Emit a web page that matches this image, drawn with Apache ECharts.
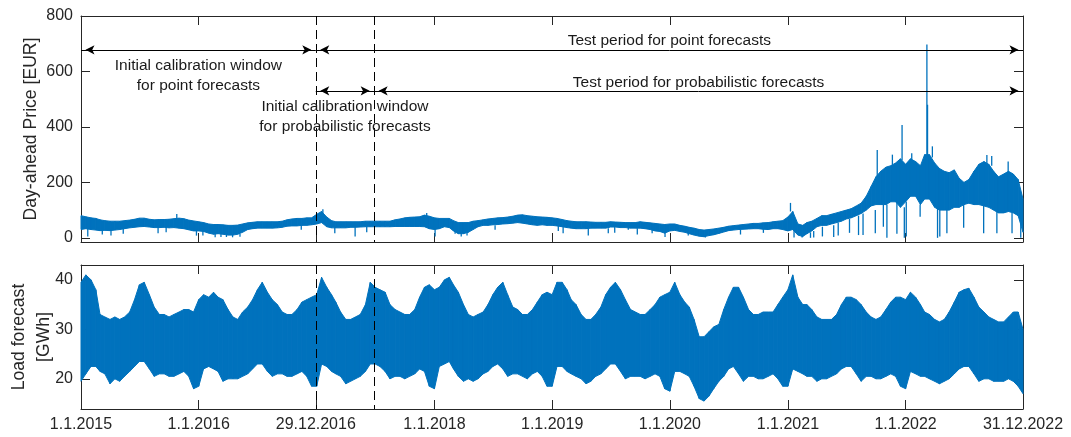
<!DOCTYPE html>
<html>
<head>
<meta charset="utf-8">
<script src="https://cdn.jsdelivr.net/npm/echarts@6/dist/echarts.min.js"></script>
<style>
html,body{margin:0;padding:0;background:#fff;}
#chart{width:1071px;height:437px;}
</style>
</head>
<body>
<div id="chart"></div>
<script>
// ---------- DATA ----------
// semi-monthly sampling grid (1st and 16th of each month) + last day
const sampleDates = [];
for (let y = 2015; y <= 2022; y++) {
  for (let m = 1; m <= 12; m++) {
    for (const d of [1, 16]) sampleDates.push(y + '-' + String(m).padStart(2, '0') + '-' + String(d).padStart(2, '0'));
  }
}
sampleDates.push('2022-12-31');

// Day-ahead price: upper / lower edge of the main trace body [EUR]
const priceHigh = [
  80, 76, 72, 70, 65, 62, 60, 60, 60, 62, 64, 67, 71, 71, 67, 65, 66, 66, 67, 69, 71, 69, 64, 61,
  58, 55, 50, 48, 48, 47, 45, 45, 46, 50, 54, 56, 58, 58, 58, 58, 58, 60, 65, 68, 70, 70, 72, 72,
  85, 95, 75, 62, 58, 58, 58, 58, 58, 58, 60, 60, 60, 60, 60, 60, 65, 68, 72, 74, 75, 76, 82, 78,
  72, 70, 70, 70, 62, 55, 55, 55, 60, 62, 65, 68, 70, 72, 73, 75, 78, 82, 83, 80, 78, 76, 75, 74,
  72, 70, 66, 62, 60, 58, 58, 58, 57, 56, 56, 56, 58, 57, 56, 55, 55, 55, 58, 56, 54, 52, 50, 48,
  50, 50, 45, 42, 38, 35, 30, 28, 30, 32, 35, 38, 42, 44, 46, 48, 50, 52, 52, 54, 55, 58, 60, 62,
  75, 95, 50, 45, 55, 60, 70, 80, 80, 85, 90, 95, 100, 105, 115, 125, 150, 185, 220, 240, 255, 260, 270, 285,
  265, 285, 275, 260, 300, 300, 270, 250, 240, 235, 245, 215, 200, 210, 240, 265, 275, 265, 240, 220, 230, 240, 230, 210, 140
];
const priceLow = [
  30, 33, 30, 28, 26, 27, 26, 28, 30, 33, 36, 38, 40, 41, 39, 37, 37, 38, 36, 37, 35, 33, 29, 25,
  25, 23, 17, 13, 15, 13, 10, 10, 13, 20, 30, 33, 35, 35, 35, 35, 36, 38, 42, 43, 43, 45, 45, 47,
  50, 55, 40, 36, 36, 36, 36, 38, 38, 39, 40, 40, 40, 40, 40, 40, 41, 41, 41, 41, 41, 41, 40, 33,
  30, 33, 40, 37, 25, 15, 15, 20, 30, 40, 45, 45, 47, 48, 50, 51, 53, 55, 53, 50, 47, 45, 47, 45,
  45, 43, 40, 37, 35, 33, 33, 33, 35, 35, 35, 35, 39, 39, 37, 37, 35, 35, 35, 33, 30, 25, 23, 17,
  25, 27, 23, 20, 15, 10, 6, 4, 8, 11, 16, 21, 26, 28, 30, 31, 32, 33, 33, 31, 30, 33, 33, 30,
  25, 30, 10, 5, 15, 25, 40, 45, 45, 50, 55, 60, 68, 72, 80, 88, 100, 115, 120, 120, 120, 130, 130, 110,
  130, 150, 150, 120, 140, 140, 110, 100, 100, 100, 110, 110, 120, 125, 120, 120, 115, 110, 100, 90, 90, 95, 90, 80, 20
];
// individual price spikes: [date, from, to] [EUR]
const priceSpikes = [
  ['2015-01-22', 35, 5], ['2015-03-08', 30, 12], ['2015-04-04', 30, 8], ['2015-05-12', 35, 15],
  ['2015-08-28', 40, 17], ['2015-09-22', 40, 20], ['2015-10-25', 68, 86], ['2015-12-25', 30, 8],
  ['2016-01-14', 28, 8], ['2016-02-21', 20, 2], ['2016-03-10', 15, 3], ['2016-03-27', 15, 3],
  ['2016-04-15', 12, 2], ['2016-05-08', 15, 4], ['2016-11-14', 45, 29],
  ['2017-01-20', 90, 103], ['2017-02-26', 40, 17], ['2017-04-30', 38, 5], ['2017-06-05', 42, 20],
  ['2017-12-08', 80, 90], ['2018-01-03', 35, 5], ['2018-03-06', 28, 15], ['2018-03-25', 18, 5],
  ['2018-04-12', 20, 8], ['2018-07-08', 45, 29],
  ['2019-01-20', 45, 25], ['2019-02-04', 42, 17], ['2019-04-23', 33, 8], ['2019-06-24', 35, 17],
  ['2019-07-14', 40, 18], ['2019-08-25', 37, 29], ['2019-09-22', 35, 12], ['2019-11-07', 32, 17],
  ['2019-12-17', 22, 3],
  ['2020-02-27', 22, 8], ['2020-04-20', 6, 1], ['2020-08-07', 30, 12], ['2020-10-17', 31, 18],
  ['2021-01-09', 95, 126], ['2021-01-20', 30, 1], ['2021-02-14', 8, 1], ['2021-03-12', 20, 0],
  ['2021-03-22', 25, 1], ['2021-04-18', 40, 5], ['2021-05-23', 45, 3], ['2021-06-06', 55, 8],
  ['2021-07-11', 68, 18], ['2021-08-08', 80, 10], ['2021-08-22', 88, 10], ['2021-09-29', 100, 17],
  ['2021-10-05', 220, 317], ['2021-10-24', 120, 40], ['2021-11-04', 120, 0], ['2021-11-21', 255, 300],
  ['2021-12-05', 130, 15], ['2021-12-21', 280, 407], ['2021-12-28', 110, 0], ['2022-01-03', 130, 5],
  ['2022-01-20', 280, 305], ['2022-02-15', 120, 76], ['2022-03-08', 300, 697], ['2022-03-10', 290, 480],
  ['2022-03-25', 290, 330], ['2022-04-10', 110, 0], ['2022-04-17', 100, 5], ['2022-05-09', 100, 17],
  ['2022-06-30', 120, 36], ['2022-08-31', 120, 17], ['2022-09-10', 270, 299], ['2022-09-25', 260, 295],
  ['2022-10-11', 100, 17], ['2022-11-15', 230, 275], ['2022-11-27', 90, 17], ['2022-12-24', 80, 0]
];

// Load forecast: upper / lower envelope [GWh]
const loadHigh = [
  39.5, 41, 40, 38, 33, 32.5, 32, 32.5, 32, 32.5, 33.5, 36, 39, 39.5, 37, 34.5, 33, 33, 32.5, 33, 33.5, 34, 34, 33.5,
  36, 37, 36.5, 37.5, 36.5, 36, 34, 32.5, 32, 33.5, 34.5, 36, 38, 39.5, 37.5, 36, 35, 33.5, 33, 33, 34, 35.5, 36, 36.5,
  37, 40.5, 38.5, 37, 35.5, 33.5, 32, 32, 32.5, 33, 35, 39.5, 38.5, 38, 37.5, 35, 34, 33.5, 33, 33, 34, 36.5, 38.5, 39,
  38, 38.5, 40, 40.5, 39, 37.5, 35, 33, 32.5, 33, 33.5, 35, 37, 38.5, 39.5, 37, 34.5, 34, 33, 33, 34, 35.5, 37, 37.5,
  37, 39.5, 39.5, 38, 36, 35, 33, 32, 32, 33, 34.5, 37, 38.5, 39.5, 38, 36, 34, 33.5, 33, 33, 34, 35, 36.5, 37,
  37.5, 39.5, 37, 35.5, 34.5, 32, 28.5, 28.5, 29.5, 30.5, 31, 34, 36.5, 38.5, 38.5, 36.5, 34, 33, 33, 33.5, 33.5, 33.5, 35, 36.5,
  38, 41, 36.5, 35, 35, 34, 32.5, 32, 32, 32, 33, 35, 36.5, 36.5, 36, 35, 33.5, 32.5, 32, 32.5, 34, 35.5, 36.5, 36.5,
  36, 37.5, 36.5, 35, 33.5, 33, 32, 31.5, 32, 33.5, 35.5, 37.5, 38, 38.3, 36.5, 34.5, 33.5, 32.5, 32, 31.5, 31.5, 32.5, 33.5, 33.5, 30
];
const loadLow = [
  19.5, 21, 22.5, 22.5, 21.5, 21, 19, 20, 19.5, 20.5, 21.5, 22.5, 23.5, 23.5, 22, 20.5, 21, 21, 20.5, 20.5, 21, 21.5, 20.5, 18,
  18.5, 22, 22.5, 22, 21.5, 19.5, 20, 20, 20, 20.5, 21, 22, 23, 23, 21.5, 20.5, 21, 21, 20.5, 20.5, 21, 21.5, 20.5, 18.5,
  18.5, 23, 22.5, 21.5, 21, 20.5, 19, 19.5, 20, 20.5, 21.5, 23, 23, 22.5, 21.5, 20, 20.5, 20.5, 20, 20.5, 21, 22, 21.5, 18.5,
  18, 22.5, 23, 23.5, 22, 20.5, 19.5, 20, 19.5, 20, 21, 21.5, 22.5, 23, 22, 20.5, 21, 21, 20.5, 20, 21, 21.5, 20.5, 18.5,
  18.5, 22.5, 22.5, 21.5, 21, 20.5, 20, 19, 19.5, 20.5, 21, 22, 23, 23, 21.5, 20, 20.5, 20.5, 20.5, 20, 20.5, 21, 20.5, 18,
  17.5, 21.5, 21.5, 21, 20.5, 18.5, 16, 15.5, 16.5, 18, 19.5, 20.5, 22, 22.5, 21, 19.5, 20.5, 20.5, 20, 20, 20.5, 21, 20, 18.5,
  18.5, 22, 21.5, 21, 20.5, 20.5, 19.5, 20, 20, 20.5, 21, 22, 22.5, 22.5, 21, 19.5, 20.5, 20.5, 20, 20, 20.5, 21, 20.5, 18.5,
  18, 21.5, 21, 20.5, 20.5, 20, 19.5, 19, 19.5, 20, 21, 22, 22.5, 22.5, 21, 19.5, 20, 20, 19.5, 19.5, 19.5, 20, 19.5, 18.5, 17
];

// x tick dates and labels
const xTickDates = ['2015-01-01', '2016-01-01', '2016-12-29', '2018-01-01', '2019-01-01', '2020-01-01', '2021-01-01', '2022-01-01', '2022-12-31'];
const xTickLabels = ['1.1.2015', '1.1.2016', '29.12.2016', '1.1.2018', '1.1.2019', '1.1.2020', '1.1.2021', '1.1.2022', '31.12.2022'];
const priceTicks = [0, 200, 400, 600, 800];
const loadTicks = [20, 30, 40];

// periods
const startDate = '2015-01-01';
const endDate = '2022-12-31';
const pointTestStart = '2016-12-29';
const probTestStart = '2017-06-28';
const pointArrowLevel = 678;
const probArrowLevel = 530;

// axis ranges
const priceRange = [-15, 800];
const loadRange = [13.9, 43];

// ---------- CHART ----------
// x is expressed in days since 1.1.2015
const BASE = Date.parse(startDate + 'T00:00:00Z');
const dayOf = s => Math.round((Date.parse(s + 'T00:00:00Z') - BASE) / 86400000);
const xTicks = xTickDates.map(dayOf);
const xMin = dayOf(startDate), xMax = dayOf(endDate);
const labelByDay = {};
xTicks.forEach((d, i) => { labelByDay[d] = xTickLabels[i]; });

const FONT = '"Liberation Sans", Arial, Helvetica, sans-serif';
const AX = '#262626';
const BLUE = '#0072BD';

// band rows: [day, low, high]
const priceBand = sampleDates.map((d, i) => [dayOf(d), priceLow[i], priceHigh[i]]);
const loadBand = sampleDates.map((d, i) => [dayOf(d), loadLow[i], loadHigh[i]]);
const spikeData = priceSpikes.map(s => [dayOf(s[0]), s[1], s[2]]);

function bandRenderer(rows) {
  return function (params, api) {
    const i = params.dataIndex;
    if (i >= rows.length - 1) return null;
    const a = rows[i], b = rows[i + 1];
    const pts = [
      api.coord([a[0], a[2]]), api.coord([b[0], b[2]]),
      api.coord([b[0], b[1]]), api.coord([a[0], a[1]])
    ];
    return { type: 'polygon', shape: { points: pts }, style: { fill: BLUE, stroke: BLUE, lineWidth: 1 } };
  };
}
function bandSeries(rows, xi, yi) {
  return {
    type: 'custom', xAxisIndex: xi, yAxisIndex: yi, data: rows, silent: true, z: 2,
    encode: { x: 0, y: [1, 2] }, renderItem: bandRenderer(rows)
  };
}

// vertical dashed period boundaries, drawn through the axes as individual dashes
const DASH = 9, GAP = 5;
function dashSeries(xi, yi, range) {
  const rows = [pointTestStart, probTestStart].map(d => [dayOf(d), range[0], range[1]]);
  return {
    type: 'custom', xAxisIndex: xi, yAxisIndex: yi, data: rows, silent: true, z: 10,
    encode: { x: 0, y: [1, 2] },
    renderItem: function (params, api) {
      const t = api.value(0);
      const p1 = api.coord([t, api.value(1)]);
      const p2 = api.coord([t, api.value(2)]);
      const x = Math.round(p1[0]) + 0.5;
      const top = Math.min(p1[1], p2[1]), bottom = Math.max(p1[1], p2[1]);
      const children = [];
      for (let y = top; y < bottom; y += DASH + GAP) {
        children.push({ type: 'line', shape: { x1: x, y1: y, x2: x, y2: Math.min(y + DASH, bottom) },
          style: { stroke: '#000', lineWidth: 1 } });
      }
      return { type: 'group', children };
    }
  };
}

function xAxisDef(gridIndex, position, showLabels) {
  return {
    type: 'value', gridIndex, position, min: xMin, max: xMax,
    axisLine: { show: true, onZero: false, lineStyle: { color: AX, width: 1 } },
    axisTick: { show: true, inside: true, length: 9, customValues: xTicks, lineStyle: { color: AX } },
    axisLabel: { show: showLabels, customValues: xTicks, formatter: v => labelByDay[Math.round(v)] || '', color: AX, fontSize: 16, fontFamily: FONT, margin: 8, hideOverlap: false, showMinLabel: true, showMaxLabel: true },
    splitLine: { show: false }, minorTick: { show: false }
  };
}
function yAxisDef(gridIndex, position, range, ticks, showLabels, name, nameGap) {
  return {
    type: 'value', gridIndex, position, min: range[0], max: range[1],
    name: name || '', nameLocation: 'middle', nameGap: nameGap || 0, nameMoveOverlap: false,
    nameTextStyle: { color: AX, fontSize: 17.6, fontFamily: FONT, lineHeight: 25 },
    axisLine: { show: true, onZero: false, lineStyle: { color: AX, width: 1 } },
    axisTick: { show: true, inside: true, length: 9, customValues: ticks, lineStyle: { color: AX } },
    axisLabel: { show: showLabels, customValues: ticks, color: AX, fontSize: 16, fontFamily: FONT, margin: 8 },
    splitLine: { show: false }
  };
}

const annFont = { color: '#1a1a1a', fontSize: 15.5, fontFamily: FONT, lineHeight: 20 };

function arrowSeg(x1, x2, y, text, pos, dist) {
  return [
    { coord: [dayOf(x1), y], lineStyle: { color: '#000', type: 'solid', width: 1 },
      label: Object.assign({ show: !!text, formatter: text, position: pos, distance: dist }, annFont) },
    { coord: [dayOf(x2), y] }
  ];
}

const option = {
  animation: false,
  backgroundColor: '#fff',
  grid: [
    { left: 81, right: 48, top: 16, height: 226, containLabel: false, outerBoundsMode: 'none' },
    { left: 81, right: 48, top: 265, height: 144, containLabel: false, outerBoundsMode: 'none' }
  ],
  xAxis: [
    xAxisDef(0, 'bottom', false),
    xAxisDef(0, 'top', false),
    xAxisDef(1, 'bottom', true),
    xAxisDef(1, 'top', false)
  ],
  yAxis: [
    yAxisDef(0, 'left', priceRange, priceTicks, true, 'Day-ahead Price [EUR]', 37),
    yAxisDef(0, 'right', priceRange, priceTicks, false),
    yAxisDef(1, 'left', loadRange, loadTicks, true, 'Load forecast\n[GWh]', 24),
    yAxisDef(1, 'right', loadRange, loadTicks, false)
  ],
  series: [
    bandSeries(priceBand, 0, 0),
    {
      type: 'custom', xAxisIndex: 0, yAxisIndex: 0, data: spikeData, silent: true, z: 3,
      encode: { x: 0, y: [1, 2] },
      renderItem: function (params, api) {
        const t = api.value(0);
        const p1 = api.coord([t, api.value(1)]);
        const p2 = api.coord([t, api.value(2)]);
        return { type: 'line', shape: { x1: p1[0], y1: p1[1], x2: p2[0], y2: p2[1] }, style: { stroke: BLUE, lineWidth: 1.3 } };
      }
    },
    dashSeries(0, 0, priceRange),
    {
      // annotation carrier (no data of its own)
      type: 'line', xAxisIndex: 0, yAxisIndex: 0, data: [], symbol: 'none', silent: true,
      markLine: {
        silent: true, animation: false, z: 10,
        symbol: ['arrow', 'arrow'], symbolSize: [7, 9], symbolOffset: [[0, 4.5], [0, 4.5]],
        data: [
          arrowSeg(startDate, pointTestStart, pointArrowLevel, 'Initial calibration window\nfor point forecasts', 'insideMiddleBottom', 6),
          arrowSeg(pointTestStart, endDate, pointArrowLevel, 'Test period for point forecasts', 'insideMiddleTop', -1),
          arrowSeg(pointTestStart, probTestStart, probArrowLevel, 'Initial calibration window\nfor probabilistic forecasts', 'insideMiddleBottom', 6),
          arrowSeg(probTestStart, endDate, probArrowLevel, 'Test period for probabilistic forecasts', 'insideMiddleTop', -1.5)
        ]
      }
    },
    bandSeries(loadBand, 2, 2),
    dashSeries(2, 2, loadRange)
  ]
};

const chart = echarts.init(document.getElementById('chart'), null, { renderer: 'canvas' });
chart.setOption(option);
</script>
</body>
</html>
